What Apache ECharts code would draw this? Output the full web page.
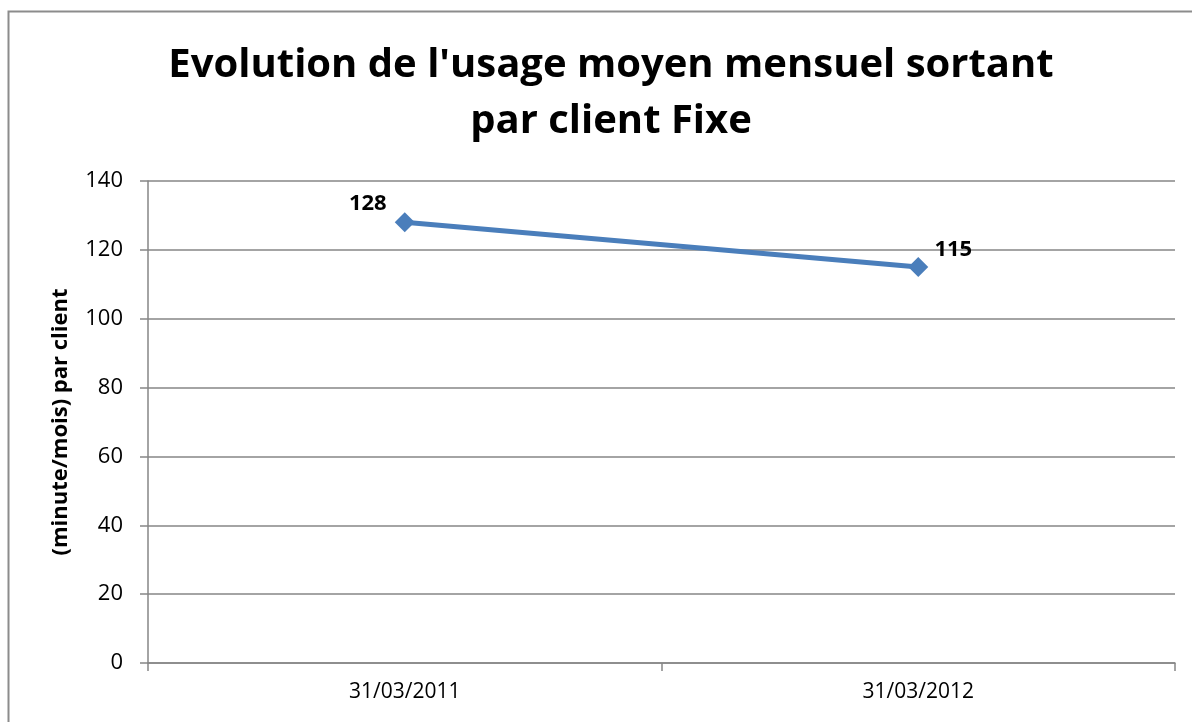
<!DOCTYPE html>
<html><head><meta charset="utf-8">
<script src="https://cdn.jsdelivr.net/npm/echarts@6/dist/echarts.min.js"></script>
<style>html,body{margin:0;padding:0;background:#fff}#c{width:1192px;height:722px}</style>
</head><body><div id="c"></div>
<script>
const categories = ['31/03/2011', '31/03/2012'];
const values = [128, 115];
const yTicks = [0, 20, 40, 60, 80, 100, 120, 140];
const titleText = "Evolution de l'usage moyen mensuel sortant\npar client Fixe";
const yName = '(minute/mois) par client';

const chart = echarts.init(document.getElementById('c'), null, {renderer: 'canvas'});
const font = 'Open Sans';
chart.setOption({
  animation: false,
  backgroundColor: '#fff',
  graphic: [{type: 'rect', shape: {x: 8.5, y: 11.5, width: 1200, height: 800}, style: {fill: 'none', stroke: '#8c8c8c', lineWidth: 2}, silent: true}],
  title: {
    text: titleText, left: 606, textAlign: 'center', top: 33,
    textStyle: {fontFamily: font, fontWeight: 'bold', fontSize: 40, lineHeight: 56, color: '#000'}
  },
  grid: {left: 148, right: 17, top: 181, bottom: 59, containLabel: false},
  xAxis: {
    type: 'category', data: categories, boundaryGap: true,
    axisLine: {lineStyle: {color: '#868686', width: 1.5}},
    axisTick: {show: true, length: 8, lineStyle: {color: '#868686', width: 1.5}},
    axisLabel: {fontFamily: font, fontSize: 21, color: '#000', margin: 19}
  },
  yAxis: {
    type: 'value', min: 0, max: yTicks[yTicks.length - 1], interval: 20,
    name: yName, nameLocation: 'middle', nameGap: 76, nameRotate: 90,
    nameTextStyle: {fontFamily: font, fontWeight: 'bold', fontSize: 22, color: '#000'},
    axisLine: {show: true, lineStyle: {color: '#868686', width: 1.5}},
    axisTick: {show: true, length: 8, lineStyle: {color: '#868686', width: 1.5}},
    axisLabel: {fontFamily: font, fontSize: 22, color: '#000', margin: 25},
    splitLine: {lineStyle: {color: '#868686', width: 1.5}}
  },
  series: [{
    type: 'line', data: values,
    symbol: 'diamond', symbolSize: 20,
    lineStyle: {color: '#4a7ebb', width: 5},
    itemStyle: {color: '#4a7ebb'},
    label: {show: true, fontFamily: font, fontWeight: 'bold', fontSize: 22, color: '#000'},
    labelLayout: function (p) {
      return p.dataIndex === 0 ? {dx: -37, dy: 7} : {dx: 35, dy: 9};
    }
  }]
});
</script></body></html>
